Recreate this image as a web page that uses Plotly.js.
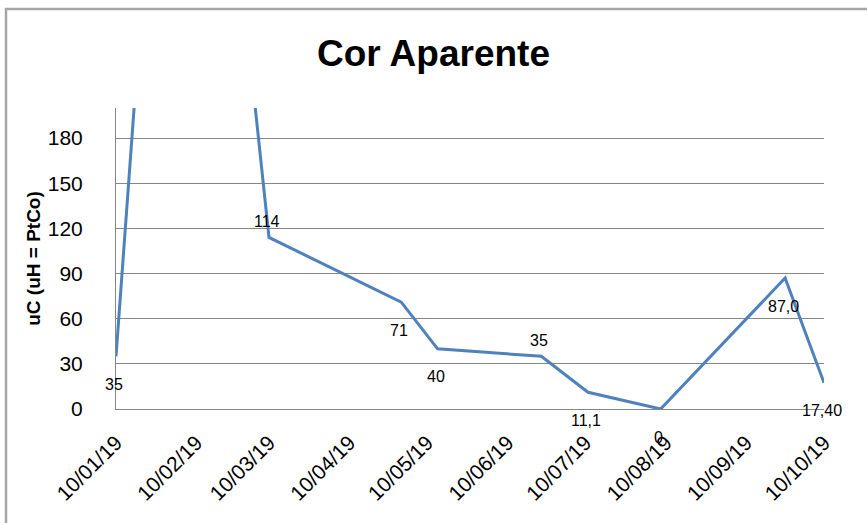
<!DOCTYPE html>
<html>
<head>
<meta charset="utf-8">
<script src="https://cdn.plot.ly/plotly-3.0.1.min.js"></script>
<style>
  html, body { margin: 0; padding: 0; background: #fff; }
  #chart { width: 867px; height: 523px; }
</style>
</head>
<body>
<div id="chart"></div>
<script>
// Data (dates as yyyy-mm-dd, values in uC)
var dates = ['2019-01-10', '2019-02-05', '2019-03-10', '2019-04-30', '2019-05-14',
             '2019-06-23', '2019-07-11', '2019-08-08', '2019-09-25', '2019-10-10'];
var values = [35, 650, 114, 71, 40, 35, 11.1, 0, 87.0, 17.40];
var labels = ['35', '650', '114', '71', '40', '35', '11,1', '0', '87,0', '17,40'];
var labelAbove = [false, true, true, false, false, true, false, false, false, false];

var tickVals = ['2019-01-10', '2019-02-10', '2019-03-10', '2019-04-10', '2019-05-10',
                '2019-06-10', '2019-07-10', '2019-08-10', '2019-09-10', '2019-10-10'];
var tickText = ['10/01/19', '10/02/19', '10/03/19', '10/04/19', '10/05/19',
                '10/06/19', '10/07/19', '10/08/19', '10/09/19', '10/10/19'];

var yMax = 200;
var FONT = 'Liberation Sans, Arial, sans-serif';

var annotations = [];
for (var i = 0; i < dates.length; i++) {
  if (values[i] > yMax) continue; // label of clipped point is off the plot
  annotations.push({
    x: dates[i], y: values[i], xref: 'x', yref: 'y',
    text: labels[i], showarrow: false,
    font: {family: FONT, size: 16, color: '#000'},
    yshift: labelAbove[i] ? 16 : -28,
    xshift: -2
  });
}

var trace = {
  x: dates, y: values, type: 'scatter', mode: 'lines',
  line: {color: '#4f81bd', width: 3},
  hoverinfo: 'skip'
};

// outer frame (as in the reference, the chart border on the left/top)
var pl = 116, pr = 824, pt = 108, pb = 409;
function px2x(p) { return (p - pl) / (pr - pl); }
function py2y(p) { return (pb - p) / (pb - pt); }

var layout = {
  width: 867, height: 523,
  margin: {l: pl, r: 867 - pr, t: pt, b: 523 - pb, pad: 0},
  paper_bgcolor: '#fff', plot_bgcolor: '#fff',
  showlegend: false,
  title: {
    text: '<b>Cor Aparente</b>',
    font: {family: FONT, size: 37, color: '#000'},
    x: 0.5, xref: 'container', xanchor: 'center',
    y: 1 - 53 / 523, yref: 'container', yanchor: 'middle'
  },
  xaxis: {
    type: 'date',
    range: ['2019-01-10', '2019-10-10'],
    tickmode: 'array', tickvals: tickVals, ticktext: tickText,
    tickangle: -45,
    tickfont: {family: FONT, size: 21, color: '#000'},
    showgrid: false, zeroline: false,
    showline: true, linecolor: '#868686', linewidth: 1,
    ticks: '', ticklabelstandoff: 12,
    automargin: false
  },
  yaxis: {
    range: [0, yMax],
    tick0: 0, dtick: 30,
    tickfont: {family: FONT, size: 21, color: '#000'},
    showgrid: true, gridcolor: '#868686', gridwidth: 1,
    zeroline: false,
    showline: true, linecolor: '#868686', linewidth: 1,
    ticks: '', ticklabelstandoff: 28,
    automargin: false,
    title: {
      text: '<b>uC (uH = PtCo)</b>',
      font: {family: FONT, size: 19, color: '#000'},
      standoff: 2
    }
  },
  annotations: annotations,
  shapes: [{
    type: 'path', xref: 'paper', yref: 'paper',
    path: 'M ' + px2x(6) + ' ' + py2y(530) + ' L ' + px2x(6) + ' ' + py2y(9) +
          ' L ' + px2x(880) + ' ' + py2y(9),
    line: {color: '#a6a6a6', width: 2.5},
    layer: 'below'
  }]
};

Plotly.newPlot('chart', [trace], layout, {staticPlot: true, displayModeBar: false});
</script>
</body>
</html>
